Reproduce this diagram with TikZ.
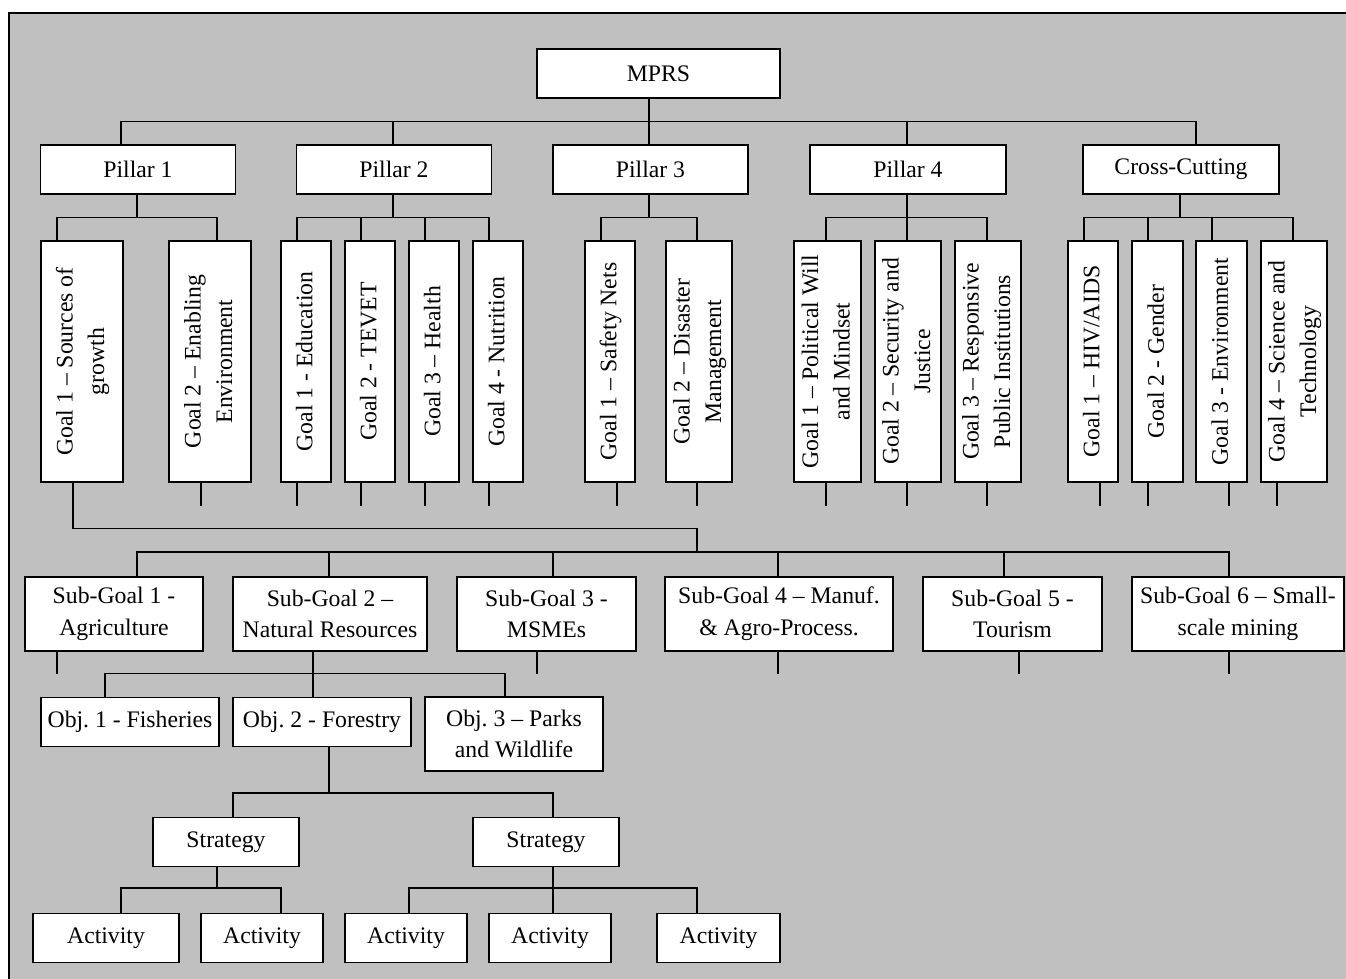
\documentclass[tikz,border=0pt]{standalone}
\usepackage{fontspec}
\setmainfont{Liberation Serif}
\usepackage{tikz}
\usetikzlibrary{arrows}

\definecolor{panel}{HTML}{C0C0C0}
\newcommand{\vlabel}[1]{\rotatebox{90}{\begin{tabular}{@{}c@{}}#1\end{tabular}}}
\frenchspacing

\begin{document}
\begin{tikzpicture}[x=0.02cm, y=-0.02cm, line width=0.75pt]
		\tikzstyle{box} = [draw, fill=white, line width=0.75pt, inner sep=0pt, align=center, font=\fontsize{13.5}{18}\selectfont]
		\tikzstyle{level} = [box, minimum height=0.98cm]
		\tikzstyle{twoline} = [box, minimum height=1.48cm]
		\tikzstyle{goal} = [box, minimum height=4.82cm]
		\tikzset{elbow/.style={to path={-- ++(0,#1) -| (\tikztotarget)}}}

		\useasboundingbox (0,0) rectangle (1346,979);
		\draw[fill=panel] (9,13) rectangle (1360,995);

		\path
		node[level, minimum width=4.86cm] (mprs) at (658.5,73.5) {MPRS}
		node[level, minimum width=3.9cm] (p1) at (138,169.5) {Pillar 1}
		node[level, minimum width=3.9cm] (p2) at (394,169.5) {Pillar 2}
		node[level, minimum width=3.9cm] (p3) at (650.5,169.5) {Pillar 3}
		node[level, minimum width=3.92cm] (p4) at (908,169.5) {Pillar 4}
		node[level, minimum width=3.92cm] (cc) at (1181,169.5) {Cross-Cutting}

		node[goal, minimum width=1.64cm] (g11) at (82,361.5) {\vlabel{Goal 1 – Sources of\\growth}}
		node[goal, minimum width=1.64cm] (g12) at (210,361.5) {\vlabel{Goal 2 – Enabling\\Environment}}
		node[goal, minimum width=1.0cm] (g21) at (306,361.5) {\vlabel{Goal 1 - Education}}
		node[goal, minimum width=1.0cm] (g22) at (370,361.5) {\vlabel{Goal 2 - TEVET}}
		node[goal, minimum width=1.0cm] (g23) at (434,361.5) {\vlabel{Goal 3 – Health}}
		node[goal, minimum width=1.0cm] (g24) at (498,361.5) {\vlabel{Goal 4 - Nutrition}}
		node[goal, minimum width=1.0cm] (g31) at (610,361.5) {\vlabel{Goal 1 – Safety Nets}}
		node[goal, minimum width=1.32cm] (g32) at (699,361.5) {\vlabel{Goal 2 – Disaster\\Management}}
		node[goal, minimum width=1.34cm] (g41) at (827.5,361.5) {\vlabel{Goal 1 – Political Will\\and Mindset}}
		node[goal, minimum width=1.32cm] (g42) at (908,361.5) {\vlabel{Goal 2 – Security and\\Justice}}
		node[goal, minimum width=1.32cm] (g43) at (988,361.5) {\vlabel{Goal 3 – Responsive\\Public Institutions}}
		node[goal, minimum width=1.0cm] (g51) at (1093,361.5) {\vlabel{Goal 1 – HIV/AIDS}}
		node[goal, minimum width=1.02cm] (g52) at (1157.5,361.5) {\vlabel{Goal 2 - Gender}}
		node[goal, minimum width=1.02cm] (g53) at (1221.5,361.5) {\vlabel{Goal 3 - Environment}}
		node[goal, minimum width=1.32cm] (g54) at (1294,361.5) {\vlabel{Goal 4 – Science and\\Technology}}

		node[twoline, minimum width=3.56cm] (sg1) at (114,614) {Sub-Goal 1 -\\Agriculture}
		node[twoline, minimum width=3.88cm] (sg2) at (330,614) {Sub-Goal 2 –\\Natural Resources}
		node[twoline, minimum width=3.58cm] (sg3) at (546.5,614) {Sub-Goal 3 -\\MSMEs}
		node[twoline, minimum width=4.56cm] (sg4) at (779,614) {Sub-Goal 4 – Manuf.\\\& Agro-Process.}
		node[twoline, minimum width=3.58cm] (sg5) at (1012.5,614) {Sub-Goal 5 -\\Tourism}
		node[twoline, minimum width=4.24cm] (sg6) at (1238,614) {Sub-Goal 6 – Small-\\scale mining}

		node[level, minimum width=3.56cm] (ob1) at (130,722) {Obj. 1 - Fisheries}
		node[level, minimum width=3.56cm] (ob2) at (322,722) {Obj. 2 - Forestry}
		node[twoline, minimum width=3.56cm] (ob3) at (514,734) {Obj. 3 – Parks\\and Wildlife}

		node[level, minimum width=2.92cm] (st1) at (226,842) {Strategy}
		node[level, minimum width=2.92cm] (st2) at (546,842) {Strategy}

		node[level, minimum width=2.92cm] (ac1) at (106,938) {Activity}
		node[level, minimum width=2.44cm] (ac2) at (262,938) {Activity}
		node[level, minimum width=2.44cm] (ac3) at (406,938) {Activity}
		node[level, minimum width=2.44cm] (ac4) at (550,938) {Activity}
		node[level, minimum width=2.46cm] (ac5) at (718.5,938) {Activity}
		;

		\coordinate (sgbus) at (697,552);

		\path
		(mprs.south -| 649,0) edge[elbow=23] (p1.north -| 121,0)
		(mprs.south -| 649,0) edge[elbow=23] (p2.north -| 393,0)
		(mprs.south -| 649,0) edge[elbow=23] (p3.north -| 649,0)
		(mprs.south -| 649,0) edge[elbow=23] (p4.north -| 907,0)
		(mprs.south -| 649,0) edge[elbow=23] (cc.north -| 1196,0)

		(p1.south -| 137,0) edge[elbow=23] (g11.north -| 57,0)
		(p1.south -| 137,0) edge[elbow=23] (g12.north -| 217,0)
		(p2.south -| 393,0) edge[elbow=23] (g21.north -| 297,0)
		(p2.south -| 393,0) edge[elbow=23] (g22.north -| 361,0)
		(p2.south -| 393,0) edge[elbow=23] (g23.north -| 425,0)
		(p2.south -| 393,0) edge[elbow=23] (g24.north -| 489,0)
		(p3.south -| 649,0) edge[elbow=23] (g31.north -| 601,0)
		(p3.south -| 649,0) edge[elbow=23] (g32.north -| 697,0)
		(p4.south -| 907,0) edge[elbow=23] (g41.north -| 826,0)
		(p4.south -| 907,0) edge[elbow=23] (g42.north -| 907,0)
		(p4.south -| 907,0) edge[elbow=23] (g43.north -| 987,0)
		(cc.south -| 1180,0) edge[elbow=23] (g51.north -| 1084,0)
		(cc.south -| 1180,0) edge[elbow=23] (g52.north -| 1148,0)
		(cc.south -| 1180,0) edge[elbow=23] (g53.north -| 1212,0)
		(cc.south -| 1180,0) edge[elbow=23] (g54.north -| 1293,0)

		(g11.south -| 73,0) edge[elbow=46] (sgbus)
		(sgbus) edge[elbow=0] (sg1.north -| 137,0)
		(sgbus) edge[elbow=0] (sg2.north -| 329,0)
		(sgbus) edge[elbow=0] (sg3.north -| 553,0)
		(sgbus) edge[elbow=0] (sg4.north -| 778,0)
		(sgbus) edge[elbow=0] (sg5.north -| 1004,0)
		(sgbus) edge[elbow=0] (sg6.north -| 1229,0)

		(sg2.south -| 313,0) edge[elbow=22] (ob1.north -| 105,0)
		(sg2.south -| 313,0) edge[elbow=22] (ob2.north -| 313,0)
		(sg2.south -| 313,0) edge[elbow=22] (ob3.north -| 505,0)

		(ob2.south -| 329,0) edge[elbow=46] (st1.north -| 233,0)
		(ob2.south -| 329,0) edge[elbow=46] (st2.north -| 553,0)

		(st1.south -| 217,0) edge[elbow=21] (ac1.north -| 121,0)
		(st1.south -| 217,0) edge[elbow=21] (ac2.north -| 281,0)
		(st2.south -| 553,0) edge[elbow=21] (ac3.north -| 409,0)
		(st2.south -| 553,0) edge[elbow=21] (ac4.north -| 553,0)
		(st2.south -| 553,0) edge[elbow=21] (ac5.north -| 697,0)
		;

		\draw
		(g12.south -| 201,0) -- ++(0,23)
		(g21.south -| 297,0) -- ++(0,23)
		(g22.south -| 361,0) -- ++(0,23)
		(g23.south -| 425,0) -- ++(0,23)
		(g24.south -| 489,0) -- ++(0,23)
		(g31.south -| 617,0) -- ++(0,23)
		(g32.south -| 697,0) -- ++(0,23)
		(g41.south -| 826,0) -- ++(0,23)
		(g42.south -| 907,0) -- ++(0,23)
		(g43.south -| 987,0) -- ++(0,23)
		(g51.south -| 1100,0) -- ++(0,23)
		(g52.south -| 1148,0) -- ++(0,23)
		(g53.south -| 1229,0) -- ++(0,23)
		(g54.south -| 1277,0) -- ++(0,23)
		(sg1.south -| 57,0) -- ++(0,22)
		(sg3.south -| 537,0) -- ++(0,22)
		(sg4.south -| 778,0) -- ++(0,22)
		(sg5.south -| 1019,0) -- ++(0,22)
		(sg6.south -| 1229,0) -- ++(0,22);
\end{tikzpicture}
\end{document}
